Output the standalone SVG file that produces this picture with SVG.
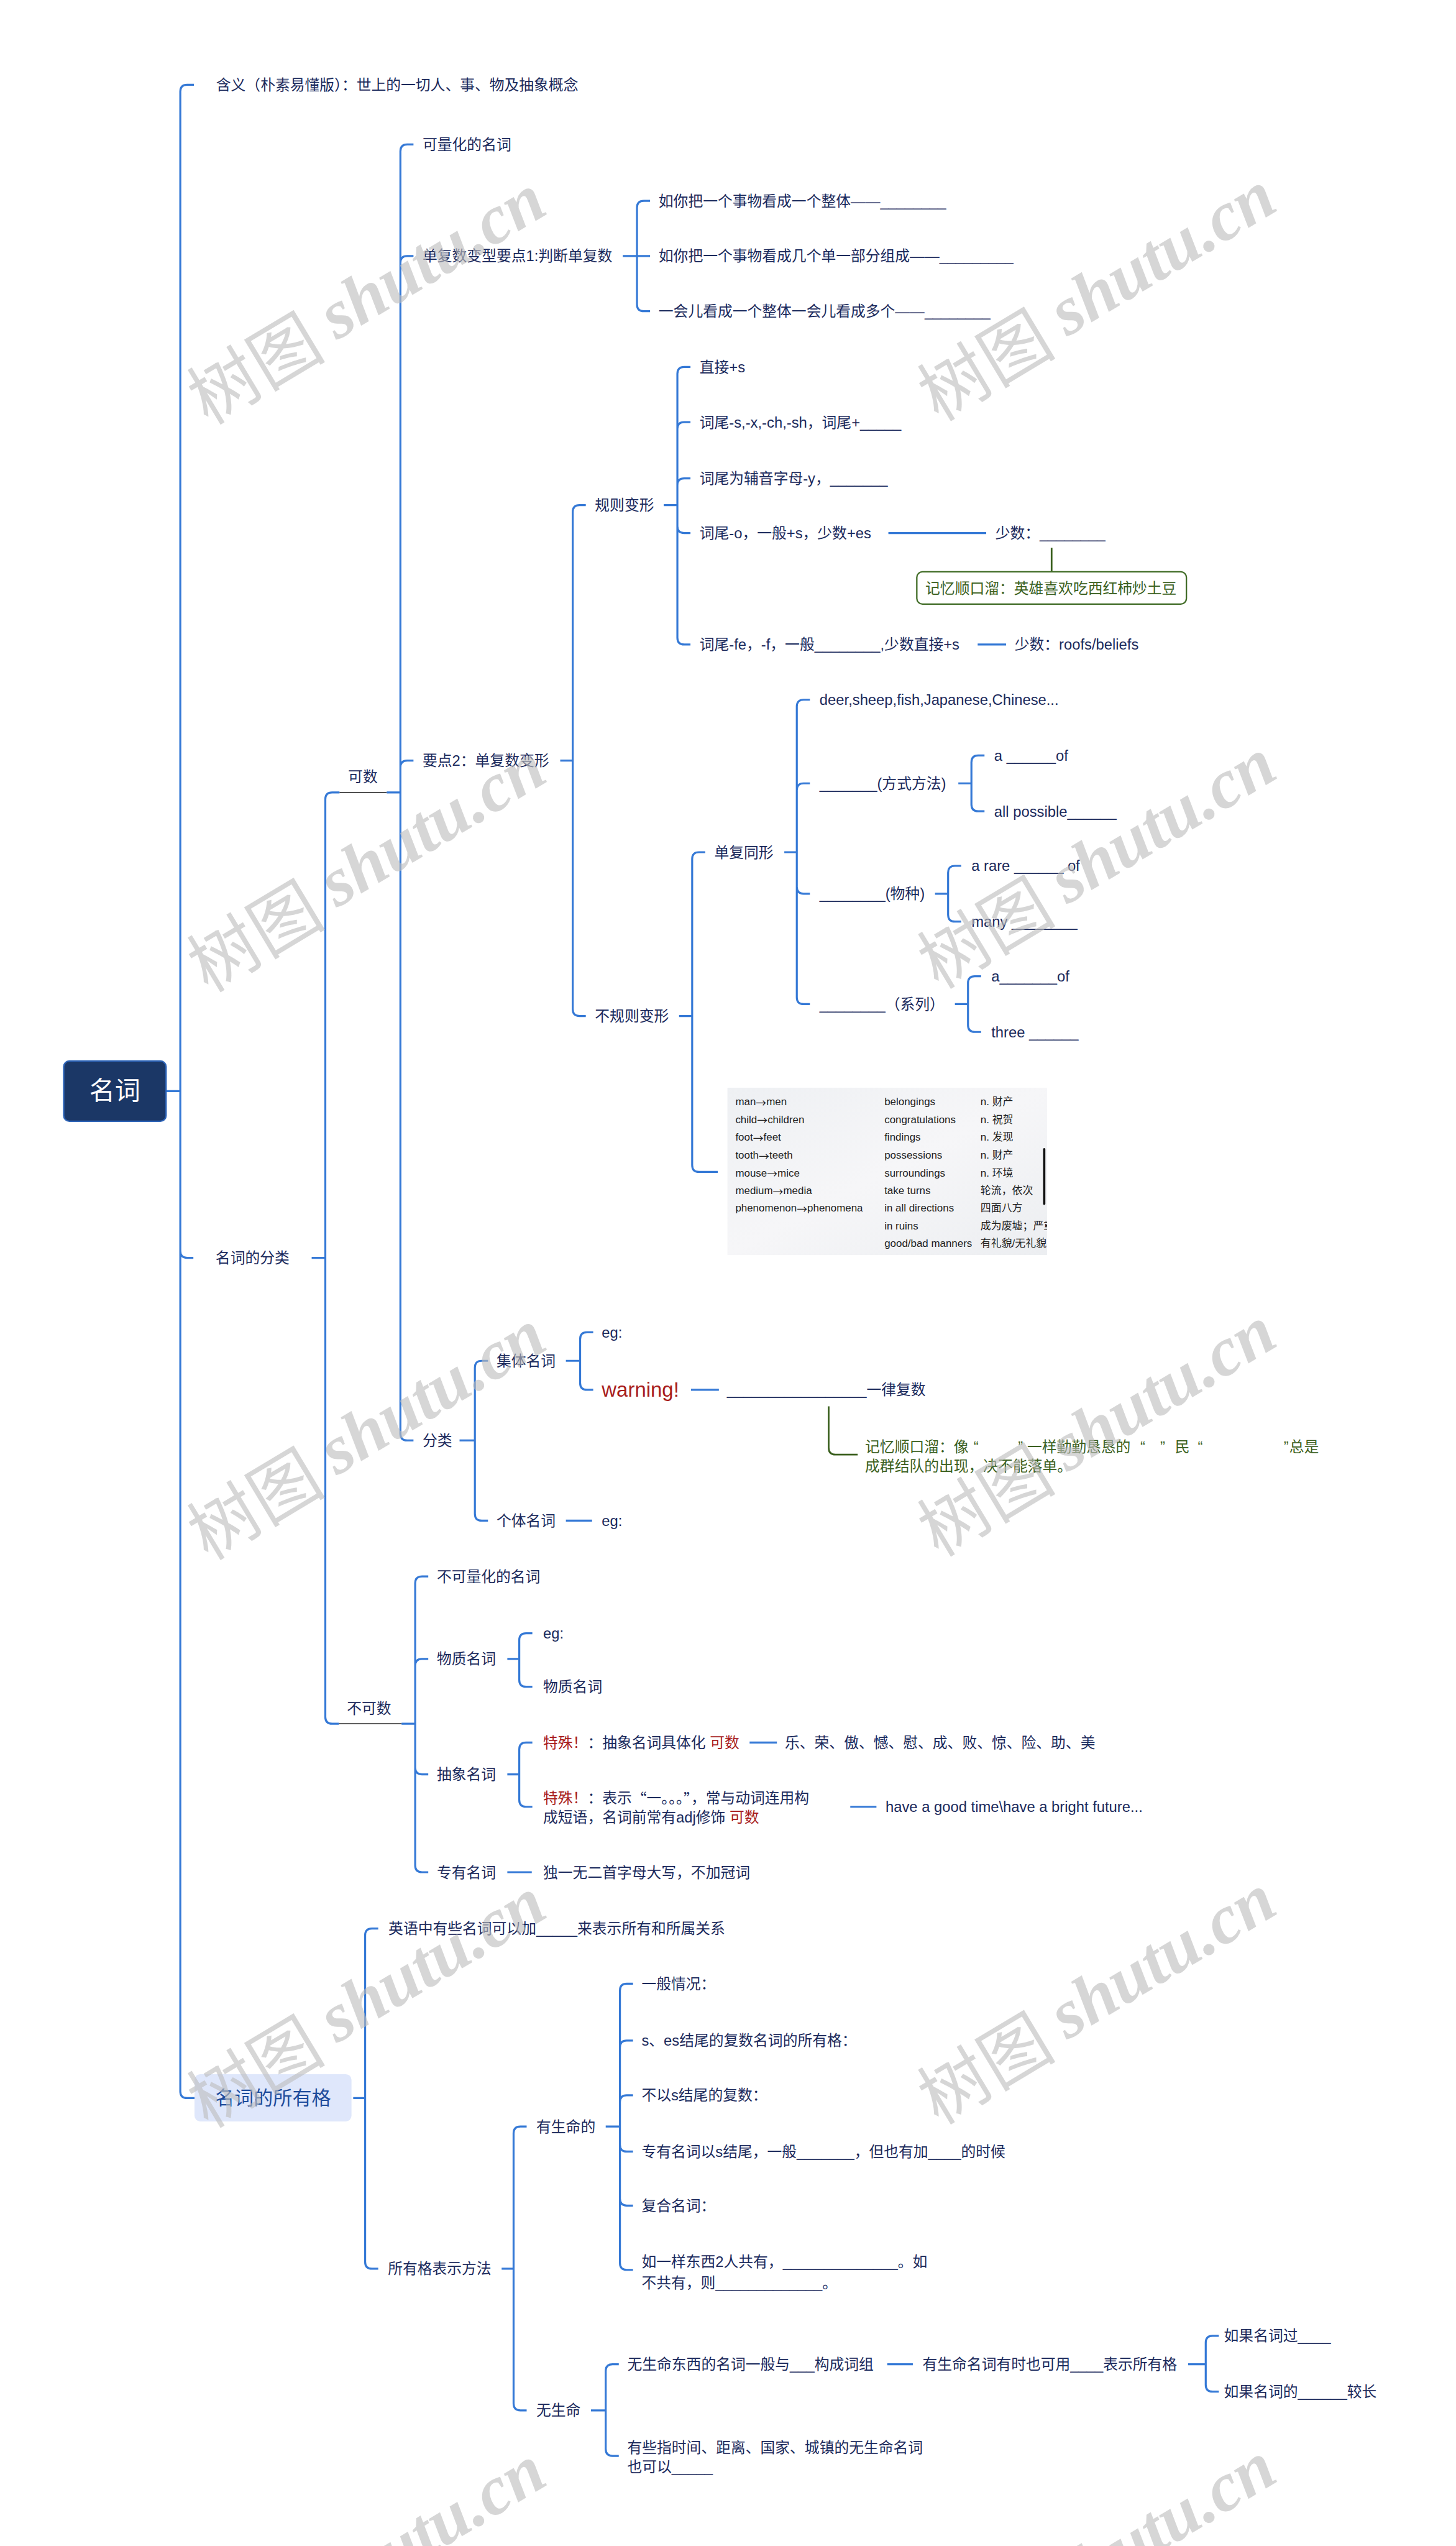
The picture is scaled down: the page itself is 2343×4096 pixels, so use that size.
<svg xmlns="http://www.w3.org/2000/svg" width="2343" height="4096" viewBox="0 0 2343 4096">
<style>
.t{font-family:"Liberation Sans","Noto Sans CJK SC",sans-serif;font-size:26px;fill:#1b2a5c;dominant-baseline:central}
.cj{font-family:"Noto Sans CJK SC",sans-serif}
.red{fill:#a81c1c}
.grn{fill:#3b6020}
.tb{font-family:"Liberation Sans","Noto Sans CJK SC",sans-serif;font-size:18.5px;fill:#1e1e1e;dominant-baseline:central}
.ln{fill:none;stroke:#3579d6;stroke-width:3.5}
.dk{fill:none;stroke:#3a3a3a;stroke-width:2}
.gl{fill:none;stroke:#3a5f1e;stroke-width:3}
.wm{font-size:122px;fill:#bdbdbd;fill-opacity:0.62;text-anchor:middle;dominant-baseline:central}
.wmc{font-family:"Noto Sans CJK SC",sans-serif}
.wml{font-family:"Liberation Serif",serif;font-style:italic;font-weight:bold}
</style>
<defs>
<linearGradient id="tbg" x1="0" y1="0" x2="1" y2="1">
<stop offset="0" stop-color="#eef0f3"/><stop offset="0.5" stop-color="#f6f6f8"/><stop offset="1" stop-color="#eceef1"/>
</linearGradient>
<clipPath id="tclip"><rect x="1279" y="1912" width="562" height="294"/></clipPath>
</defs>
<rect width="2343" height="4096" fill="#ffffff"/>
<g transform="scale(0.91523)">
<g id="connectors">
<path class="ln" d="M292,1918 H317 M317,1918 V161 Q317,149 329,149 H341 M317,1918 V2199 Q317,2211 329,2211 H340 M317,1918 V3676 Q317,3688 329,3688 H342"/>
<path class="ln" d="M548,2211 H572 M572,2211 V1405 Q572,1393 584,1393 H597 M572,2211 V3018 Q572,3030 584,3030 H596"/>
<path class="dk" d="M597,1393 H680 M596,3030 H706"/>
<path class="ln" d="M680,1393 H704 M704,1393 V266 Q704,254 716,254 H727 M704,1393 V462 Q704,450 716,450 H727 M704,1393 V1349 Q704,1337 716,1337 H727 M704,1393 V2520 Q704,2532 716,2532 H727"/>
<path class="ln" d="M1095,450 H1143 M1120,450 V365 Q1120,353 1132,353 H1143 M1120,450 V535 Q1120,547 1132,547 H1143"/>
<path class="ln" d="M985,1337 H1007 M1007,1337 V900 Q1007,888 1019,888 H1030 M1007,1337 V1774 Q1007,1786 1019,1786 H1030"/>
<path class="ln" d="M1167,888 H1191 M1191,888 V657 Q1191,645 1203,645 H1214 M1191,888 V754 Q1191,742 1203,742 H1214 M1191,888 V853 Q1191,841 1203,841 H1214 M1191,888 V925 Q1191,937 1203,937 H1214 M1191,888 V1121 Q1191,1133 1203,1133 H1214"/>
<path class="ln" d="M1562,937 H1734 M1719,1133 H1769"/>
<path class="ln" d="M1194,1786 H1217 M1217,1786 V1510 Q1217,1498 1229,1498 H1240 M1217,1786 V2048 Q1217,2060 1229,2060 H1262"/>
<path class="ln" d="M1379,1498 H1401 M1401,1498 V1242 Q1401,1230 1413,1230 H1424 M1401,1498 V1389 Q1401,1377 1413,1377 H1424 M1401,1498 V1559 Q1401,1571 1413,1571 H1424 M1401,1498 V1753 Q1401,1765 1413,1765 H1424"/>
<path class="ln" d="M1685,1377 H1708 M1708,1377 V1340 Q1708,1328 1720,1328 H1731 M1708,1377 V1414 Q1708,1426 1720,1426 H1731"/>
<path class="ln" d="M1644,1571 H1667 M1667,1571 V1534 Q1667,1522 1679,1522 H1690 M1667,1571 V1608 Q1667,1620 1679,1620 H1690"/>
<path class="ln" d="M1679,1765 H1702 M1702,1765 V1728 Q1702,1716 1714,1716 H1725 M1702,1765 V1802 Q1702,1814 1714,1814 H1725"/>
<path class="ln" d="M808,2532 H835 M835,2532 V2404 Q835,2392 847,2392 H858 M835,2532 V2661 Q835,2673 847,2673 H858"/>
<path class="ln" d="M995,2392 H1020 M1020,2392 V2354 Q1020,2342 1032,2342 H1043 M1020,2392 V2431 Q1020,2443 1032,2443 H1043 M1215,2443 H1264 M995,2673 H1041"/>
<path class="ln" d="M706,3030 H730 M730,3030 V2783 Q730,2771 742,2771 H753 M730,3030 V2928 Q730,2916 742,2916 H753 M730,3030 V3107 Q730,3119 742,3119 H753 M730,3030 V3279 Q730,3291 742,3291 H753"/>
<path class="ln" d="M892,2916 H913 M913,2916 V2883 Q913,2871 925,2871 H936 M913,2916 V2953 Q913,2965 925,2965 H936"/>
<path class="ln" d="M892,3119 H913 M913,3119 V3075 Q913,3063 925,3063 H936 M913,3119 V3164 Q913,3176 925,3176 H936 M1318,3063 H1366 M1495,3176 H1541 M892,3291 H935"/>
<path class="ln" d="M621,3688 H642 M642,3688 V3402 Q642,3390 654,3390 H665 M642,3688 V3976 Q642,3988 654,3988 H665"/>
<path class="ln" d="M882,3988 H903 M903,3988 V3750 Q903,3738 915,3738 H926 M903,3988 V4225 Q903,4237 915,4237 H926"/>
<path class="ln" d="M1065,3738 H1090 M1090,3738 V3499 Q1090,3487 1102,3487 H1113 M1090,3738 V3599 Q1090,3587 1102,3587 H1113 M1090,3738 V3695 Q1090,3683 1102,3683 H1113 M1090,3738 V3770 Q1090,3782 1102,3782 H1113 M1090,3738 V3865 Q1090,3877 1102,3877 H1113 M1090,3738 V3978 Q1090,3990 1102,3990 H1113"/>
<path class="ln" d="M1039,4237 H1065 M1065,4237 V4168 Q1065,4156 1077,4156 H1088 M1065,4237 V4305 Q1065,4317 1077,4317 H1088 M1560,4156 H1605"/>
<path class="ln" d="M2089,4156 H2120 M2120,4156 V4118 Q2120,4106 2132,4106 H2143 M2120,4156 V4192 Q2120,4204 2132,4204 H2143"/>
<path class="gl" d="M1849,963 V1005"/>
<path class="gl" d="M1457,2472 V2545 Q1457,2557 1469,2557 H1508"/>
</g>
<g id="n-root"><rect x="112" y="1865" width="180" height="106" rx="10" fill="#1b3766" stroke="#2d64b8" stroke-width="2.5"/><text class="t" x="202" y="1918" style="font-size:45px;fill:#ffffff;text-anchor:middle">名词</text></g>
<g id="n-hanyi"><text class="t" x="380" y="149">含义（朴素易懂版）：世上的一切人、事、物及抽象概念</text></g>
<g id="n-fenlei0"><text class="t" x="379" y="2211">名词的分类</text></g>
<g id="n-suoyouge"><rect x="342" y="3646" width="276" height="83" rx="10" fill="#dfe7fb"/><text class="t" x="480" y="3688" style="font-size:34px;fill:#1f4d9c;text-anchor:middle">名词的所有格</text></g>
<g id="n-keshu"><text class="t" x="612" y="1365">可数</text></g>
<g id="n-bukeshu"><text class="t" x="610" y="3003">不可数</text></g>
<g id="n-klh"><text class="t" x="743" y="254">可量化的名词</text></g>
<g id="n-yd1"><text class="t" x="743" y="450">单复数变型要点1:判断单复数</text></g>
<g id="n-yd1a"><text class="t" x="1158" y="353">如你把一个事物看成一个整体——________</text></g>
<g id="n-yd1b"><text class="t" x="1158" y="450">如你把一个事物看成几个单一部分组成——_________</text></g>
<g id="n-yd1c"><text class="t" x="1158" y="547">一会儿看成一个整体一会儿看成多个——________</text></g>
<g id="n-yd2"><text class="t" x="743" y="1337">要点2：单复数变形</text></g>
<g id="n-gzbx"><text class="t" x="1046" y="888">规则变形</text></g>
<g id="n-g1"><text class="t" x="1230" y="645">直接+s</text></g>
<g id="n-g2"><text class="t" x="1230" y="742">词尾-s,-x,-ch,-sh，词尾+_____</text></g>
<g id="n-g3"><text class="t" x="1230" y="841">词尾为辅音字母-y，_______</text></g>
<g id="n-g4"><text class="t" x="1230" y="937">词尾-o，一般+s，少数+es</text></g>
<g id="n-g4a"><text class="t" x="1750" y="937">少数：________</text></g>
<g id="n-g4b"><rect x="1612" y="1005" width="474" height="57" rx="10" fill="#ffffff" stroke="#3f6b25" stroke-width="2.5"/><text class="t grn" x="1627" y="1034">记忆顺口溜：英雄喜欢吃西红柿炒土豆</text></g>
<g id="n-g5"><text class="t" x="1230" y="1133">词尾-fe，-f，一般________,少数直接+s</text></g>
<g id="n-g5a"><text class="t" x="1784" y="1133">少数：roofs/beliefs</text></g>
<g id="n-bgz"><text class="t" x="1046" y="1786">不规则变形</text></g>
<g id="n-dftx"><text class="t" x="1256" y="1498">单复同形</text></g>
<g id="n-deer"><text class="t" x="1441" y="1230">deer,sheep,fish,Japanese,Chinese...</text></g>
<g id="n-fs"><text class="t" x="1441" y="1377">_______(方式方法)</text></g>
<g id="n-fs1"><text class="t" x="1748" y="1328">a ______of</text></g>
<g id="n-fs2"><text class="t" x="1748" y="1426">all possible______</text></g>
<g id="n-wz"><text class="t" x="1441" y="1571">________(物种)</text></g>
<g id="n-wz1"><text class="t" x="1708" y="1522">a rare ______ of</text></g>
<g id="n-wz2"><text class="t" x="1708" y="1620">many ________</text></g>
<g id="n-xl"><text class="t" x="1441" y="1765">________（系列）</text></g>
<g id="n-xl1"><text class="t" x="1743" y="1716">a_______of</text></g>
<g id="n-xl2"><text class="t" x="1743" y="1814">three ______</text></g>
<g id="n-table">
<rect x="1279" y="1912" width="562" height="294" fill="url(#tbg)"/>
<g clip-path="url(#tclip)">
<text class="tb" x="1293" y="1937">man<tspan class="cj">→</tspan>men</text>
<text class="tb" x="1293" y="1968">child<tspan class="cj">→</tspan>children</text>
<text class="tb" x="1293" y="1999">foot<tspan class="cj">→</tspan>feet</text>
<text class="tb" x="1293" y="2031">tooth<tspan class="cj">→</tspan>teeth</text>
<text class="tb" x="1293" y="2062">mouse<tspan class="cj">→</tspan>mice</text>
<text class="tb" x="1293" y="2093">medium<tspan class="cj">→</tspan>media</text>
<text class="tb" x="1293" y="2124">phenomenon<tspan class="cj">→</tspan>phenomena</text>
<text class="tb" x="1555" y="1937">belongings</text>
<text class="tb" x="1555" y="1968">congratulations</text>
<text class="tb" x="1555" y="1999">findings</text>
<text class="tb" x="1555" y="2031">possessions</text>
<text class="tb" x="1555" y="2062">surroundings</text>
<text class="tb" x="1555" y="2093">take turns</text>
<text class="tb" x="1555" y="2124">in all directions</text>
<text class="tb" x="1555" y="2155">in ruins</text>
<text class="tb" x="1555" y="2186">good/bad manners</text>
<text class="tb" x="1724" y="1937">n. 财产</text>
<text class="tb" x="1724" y="1968">n. 祝贺</text>
<text class="tb" x="1724" y="1999">n. 发现</text>
<text class="tb" x="1724" y="2031">n. 财产</text>
<text class="tb" x="1724" y="2062">n. 环境</text>
<text class="tb" x="1724" y="2093">轮流，依次</text>
<text class="tb" x="1724" y="2124">四面八方</text>
<text class="tb" x="1724" y="2155">成为废墟；严重</text>
<text class="tb" x="1724" y="2186">有礼貌/无礼貌</text>
</g>
<rect x="1834" y="2018" width="4" height="100" rx="2" fill="#111111"/>
</g>
<g id="n-fenlei"><text class="t" x="743" y="2532">分类</text></g>
<g id="n-jiti"><text class="t" x="873" y="2392">集体名词</text></g>
<g id="n-jiti-eg"><text class="t" x="1058" y="2342">eg:</text></g>
<g id="n-warning"><text class="t red" x="1058" y="2443" style="font-size:36px">warning!</text></g>
<g id="n-yilv"><text class="t" x="1278" y="2443">_________________一律复数</text></g>
<g id="n-jiyi2"><text class="t grn" y="2542"><tspan x="1521">记忆顺口溜：像</tspan><tspan x="1712">“</tspan><tspan x="1790">”</tspan><tspan x="1806">一样勤勤恳恳的</tspan><tspan x="2005">“</tspan><tspan x="2040">”</tspan><tspan x="2066">民</tspan><tspan x="2106">“</tspan><tspan x="2257">”</tspan><tspan x="2267">总是</tspan></text><text class="t grn" x="1521" y="2577">成群结队的出现，决不能落单。</text></g>
<g id="n-geti"><text class="t" x="873" y="2673">个体名词</text></g>
<g id="n-geti-eg"><text class="t" x="1058" y="2673">eg:</text></g>
<g id="n-bklh"><text class="t" x="768" y="2771">不可量化的名词</text></g>
<g id="n-wzmc"><text class="t" x="768" y="2916">物质名词</text></g>
<g id="n-wzmc-eg"><text class="t" x="955" y="2871">eg:</text></g>
<g id="n-wzmc2"><text class="t" x="955" y="2965">物质名词</text></g>
<g id="n-cxmc"><text class="t" x="768" y="3119">抽象名词</text></g>
<g id="n-ts1"><text class="t" x="955" y="3063"><tspan class="red">特殊！</tspan>：抽象名词具体化 <tspan class="red">可数</tspan></text></g>
<g id="n-ts1a"><text class="t" x="1380" y="3063">乐、荣、傲、憾、慰、成、败、惊、险、助、美</text></g>
<g id="n-ts2"><text class="t" x="955" y="3160"><tspan class="red">特殊！</tspan>：表示<tspan class="cj">“</tspan>一。。。<tspan class="cj">”</tspan>，常与动词连用构</text><text class="t" x="955" y="3194">成短语，名词前常有adj修饰 <tspan class="red">可数</tspan></text></g>
<g id="n-ts2a"><text class="t" x="1557" y="3176">have a good time\have a bright future...</text></g>
<g id="n-zymc"><text class="t" x="768" y="3291">专有名词</text></g>
<g id="n-zymc-a"><text class="t" x="955" y="3291">独一无二首字母大写，不加冠词</text></g>
<g id="n-sy1"><text class="t" x="683" y="3390">英语中有些名词可以加_____来表示所有和所属关系</text></g>
<g id="n-syff"><text class="t" x="682" y="3988">所有格表示方法</text></g>
<g id="n-ysm"><text class="t" x="943" y="3738">有生命的</text></g>
<g id="n-ysm1"><text class="t" x="1128" y="3487">一般情况：</text></g>
<g id="n-ysm2"><text class="t" x="1128" y="3587">s、es结尾的复数名词的所有格：</text></g>
<g id="n-ysm3"><text class="t" x="1128" y="3683">不以s结尾的复数：</text></g>
<g id="n-ysm4"><text class="t" x="1128" y="3782">专有名词以s结尾，一般_______，但也有加____的时候</text></g>
<g id="n-ysm5"><text class="t" x="1128" y="3877">复合名词：</text></g>
<g id="n-ysm6"><text class="t" x="1128" y="3976">如一样东西2人共有，______________。如</text><text class="t" x="1128" y="4013">不共有，则_____________。</text></g>
<g id="n-wsm"><text class="t" x="943" y="4237">无生命</text></g>
<g id="n-wsm1"><text class="t" x="1103" y="4156">无生命东西的名词一般与___构成词组</text></g>
<g id="n-wsm1a"><text class="t" x="1622" y="4156">有生命名词有时也可用____表示所有格</text></g>
<g id="n-wsm1a1"><text class="t" x="2152" y="4106">如果名词过____</text></g>
<g id="n-wsm1a2"><text class="t" x="2152" y="4204">如果名词的______较长</text></g>
<g id="n-wsm2"><text class="t" x="1103" y="4302">有些指时间、距离、国家、城镇的无生命名词</text><text class="t" x="1103" y="4336">也可以_____</text></g>
<g id="watermarks">
<text class="wm" transform="translate(642,520) rotate(-31)"><tspan class="wmc">树图 </tspan><tspan class="wml">shutu.cn</tspan></text>
<text class="wm" transform="translate(1926,514) rotate(-31)"><tspan class="wmc">树图 </tspan><tspan class="wml">shutu.cn</tspan></text>
<text class="wm" transform="translate(642,1518) rotate(-31)"><tspan class="wmc">树图 </tspan><tspan class="wml">shutu.cn</tspan></text>
<text class="wm" transform="translate(1926,1512) rotate(-31)"><tspan class="wmc">树图 </tspan><tspan class="wml">shutu.cn</tspan></text>
<text class="wm" transform="translate(642,2516) rotate(-31)"><tspan class="wmc">树图 </tspan><tspan class="wml">shutu.cn</tspan></text>
<text class="wm" transform="translate(1926,2510) rotate(-31)"><tspan class="wmc">树图 </tspan><tspan class="wml">shutu.cn</tspan></text>
<text class="wm" transform="translate(642,3514) rotate(-31)"><tspan class="wmc">树图 </tspan><tspan class="wml">shutu.cn</tspan></text>
<text class="wm" transform="translate(1926,3508) rotate(-31)"><tspan class="wmc">树图 </tspan><tspan class="wml">shutu.cn</tspan></text>
<text class="wm" transform="translate(642,4512) rotate(-31)"><tspan class="wmc">树图 </tspan><tspan class="wml">shutu.cn</tspan></text>
<text class="wm" transform="translate(1926,4506) rotate(-31)"><tspan class="wmc">树图 </tspan><tspan class="wml">shutu.cn</tspan></text>
</g>
</g>
</svg>
